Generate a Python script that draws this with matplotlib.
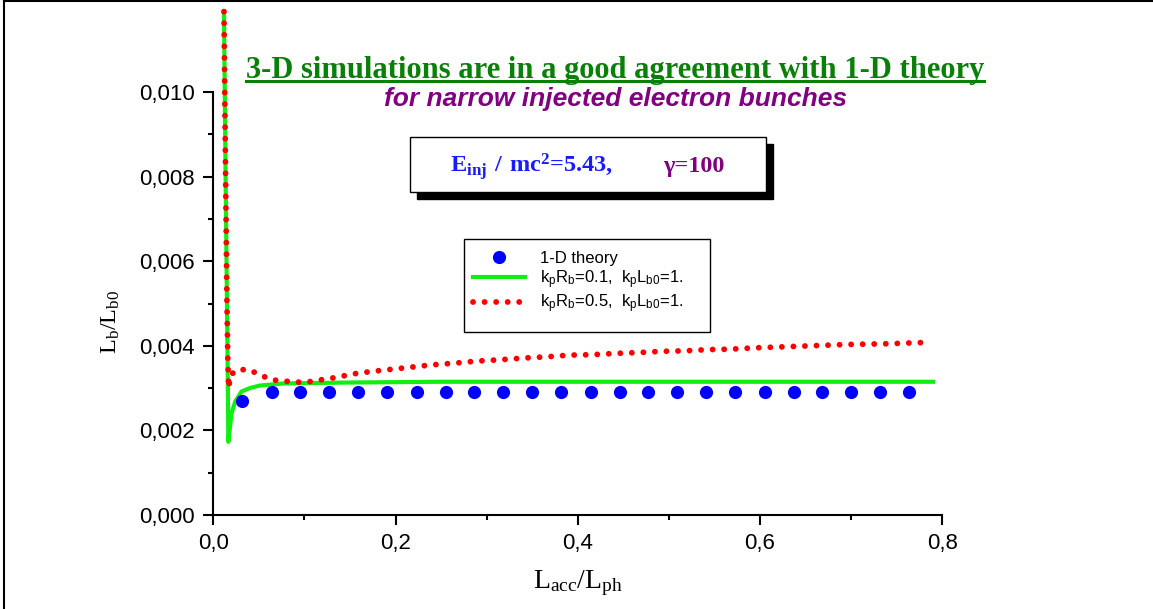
import numpy as np
import matplotlib
matplotlib.use("Agg")
import matplotlib.pyplot as plt
from matplotlib import ticker
from matplotlib.patches import Rectangle
from matplotlib.lines import Line2D

# data
theory_x = [0.032, 0.064, 0.095, 0.127, 0.159, 0.191, 0.223, 0.255, 0.286, 0.318,
            0.350, 0.382, 0.414, 0.446, 0.477, 0.509, 0.541, 0.573, 0.605, 0.637,
            0.668, 0.700, 0.732, 0.764]
theory_y = [0.00270, 0.00290, 0.00291, 0.00291, 0.00291, 0.00291, 0.00291, 0.00291,
            0.00291, 0.00291, 0.00291, 0.00291, 0.00291, 0.00291, 0.00291, 0.00291,
            0.00291, 0.00291, 0.00291, 0.00291, 0.00291, 0.00291, 0.00291, 0.00291]

rb01_x = [0.0117, 0.0135, 0.0150, 0.0160, 0.0165, 0.0200, 0.0240, 0.0310, 0.0400,
          0.0510, 0.0770, 0.1420, 0.2500, 0.7900]
rb01_y = [0.01190, 0.00800, 0.00500, 0.00300, 0.00173, 0.00240, 0.00268, 0.00292,
          0.00300, 0.00306, 0.00311, 0.00313, 0.00315, 0.00315]

rb05_x = [0.0117, 0.0135, 0.0150, 0.0160, 0.0170, 0.0185, 0.0257, 0.0380, 0.0500,
          0.0630, 0.0750, 0.0880, 0.1000, 0.1130, 0.1260, 0.1390, 0.1520, 0.1650,
          0.1890, 0.2150, 0.2400, 0.2650, 0.2900, 0.3150, 0.3400, 0.3660, 0.3910,
          0.4160, 0.4410, 0.4670, 0.4920, 0.5170, 0.5420, 0.5670, 0.5920, 0.6180,
          0.6430, 0.6680, 0.6930, 0.7180, 0.7430, 0.7680, 0.7850]
rb05_y = [0.01190, 0.00800, 0.00500, 0.00360, 0.00300, 0.00330, 0.00343, 0.00344,
          0.00333, 0.00320, 0.00317, 0.00315, 0.00313, 0.00318, 0.00322, 0.00327,
          0.00333, 0.00337, 0.00343, 0.00349, 0.00355, 0.00359, 0.00364, 0.00367,
          0.00371, 0.00374, 0.00378, 0.00379, 0.00382, 0.00384, 0.00387, 0.00388,
          0.00391, 0.00392, 0.00395, 0.00397, 0.00399, 0.00401, 0.00403, 0.00404,
          0.00405, 0.00407, 0.00408]

labels = ["1-D theory",
          r"$\mathregular{k_pR_b}$=0.1,  $\mathregular{k_pL_{b0}}$=1.",
          r"$\mathregular{k_pR_b}$=0.5,  $\mathregular{k_pL_{b0}}$=1."]

W, H = 1153, 609
fig = plt.figure(figsize=(W / 100, H / 100), dpi=100)
ax = fig.add_axes([213.3 / W, 1 - 515 / H, 729 / W, 423 / H])

def px(x, y):
    # pixel position (from top-left) -> figure fraction
    return x / W, 1 - y / H

ax.plot(theory_x, theory_y, 'o', color='#0000ff', ms=9.5, mec='none',
        label=labels[0], zorder=3)
ax.plot(rb01_x, rb01_y, color='#11ee11', lw=3, label=labels[1],
        clip_on=False, zorder=2, solid_joinstyle='round')
ax.plot(rb05_x, rb05_y, color='#ff0000', lw=4.2, ls=(0, (0.01, 1.97)),
        dash_capstyle='round', label=labels[2], clip_on=False, zorder=4)

ax.set_xlim(0, 0.8)
ax.set_ylim(0, 0.010)
for s in ['top', 'right']:
    ax.spines[s].set_visible(False)
for s in ['left', 'bottom']:
    ax.spines[s].set_linewidth(1.5)

ax.xaxis.set_major_locator(ticker.MultipleLocator(0.2))
ax.xaxis.set_minor_locator(ticker.MultipleLocator(0.1))
ax.yaxis.set_major_locator(ticker.MultipleLocator(0.002))
ax.yaxis.set_minor_locator(ticker.MultipleLocator(0.001))
ax.xaxis.set_major_formatter(ticker.FuncFormatter(lambda v, p: f"{v:.1f}".replace('.', ',')))
ax.yaxis.set_major_formatter(ticker.FuncFormatter(lambda v, p: f"{v:.3f}".replace('.', ',')))
ax.tick_params(which='major', length=7, width=1.5, labelsize=16, pad=6)
ax.tick_params(which='minor', length=3.6, width=1.5)
for lab in ax.get_xticklabels() + ax.get_yticklabels():
    lab.set_fontfamily('Liberation Sans')

ax.set_xlabel(r"$\mathregular{L_{acc}/L_{ph}}$", fontfamily='Liberation Serif', fontsize=20)
ax.set_ylabel(r"$\mathregular{L_b/L_{b0}}$", fontfamily='Liberation Serif', fontsize=17.5)
ax.xaxis.set_label_coords(0.5, -0.125)
ax.yaxis.set_label_coords(-0.125, 0.456)

# titles
title = fig.text(*px(615, 78), "3-D simulations are in a good agreement with 1-D theory",
                 ha='center', va='baseline', fontfamily='Liberation Serif',
                 fontweight='bold', fontsize=22, color='#0a800a')
fig.text(*px(616, 106), "for narrow injected electron bunches", ha='center',
         va='baseline', fontfamily='Liberation Sans', fontweight='bold',
         fontstyle='italic', fontsize=19, color='#800080')

# parameter box with shadow
fig.patches.append(Rectangle(px(417, 199), 356 / W, 55 / H, transform=fig.transFigure,
                             facecolor='black', edgecolor='black', zorder=1))
fig.patches.append(Rectangle(px(410, 192), 356 / W, 55 / H, transform=fig.transFigure,
                             facecolor='white', edgecolor='black', lw=1, zorder=2))
fig.text(*px(450, 172), r"$\mathregular{E_{inj}\ /\ mc^2}$=5.43,", ha='left',
         va='baseline', fontfamily='Liberation Serif', fontweight='bold',
         fontsize=17.5, color='#1a1aff', zorder=3)
fig.text(*px(663, 172), "\u03b3=100", ha='left', va='baseline',
         fontfamily='Liberation Serif', fontweight='bold', fontsize=17.5,
         color='#800080', zorder=3)

# legend box
fig.patches.append(Rectangle(px(464, 332), 246 / W, 93 / H, transform=fig.transFigure,
                             facecolor='white', edgecolor='black', lw=1, zorder=2))
handles, labs = ax.get_legend_handles_labels()
leg = fig.legend(handles, labs, loc='upper left', bbox_to_anchor=px(473, 251),
                 bbox_transform=fig.transFigure, frameon=False,
                 prop={'family': 'Liberation Sans', 'size': 12},
                 handlelength=3.1, handletextpad=0.9, labelspacing=0.12,
                 borderpad=0, borderaxespad=0, numpoints=1)
leg.set_zorder(5)

# figure border (left and top only)
fig.add_artist(Line2D([4 / W, 4 / W], [0, 1 - 1 / H], transform=fig.transFigure,
                      color='black', lw=1.5))
fig.add_artist(Line2D([4 / W, 1], [1 - 1 / H, 1 - 1 / H], transform=fig.transFigure,
                      color='black', lw=1.5))

# underline the title
fig.canvas.draw()
bb = title.get_window_extent().transformed(fig.transFigure.inverted())
fig.add_artist(Line2D([bb.x0, bb.x1], [1 - 81 / H, 1 - 81 / H], transform=fig.transFigure,
                      color='#0a800a', lw=2.2))

fig.savefig("out.png", dpi=100)
